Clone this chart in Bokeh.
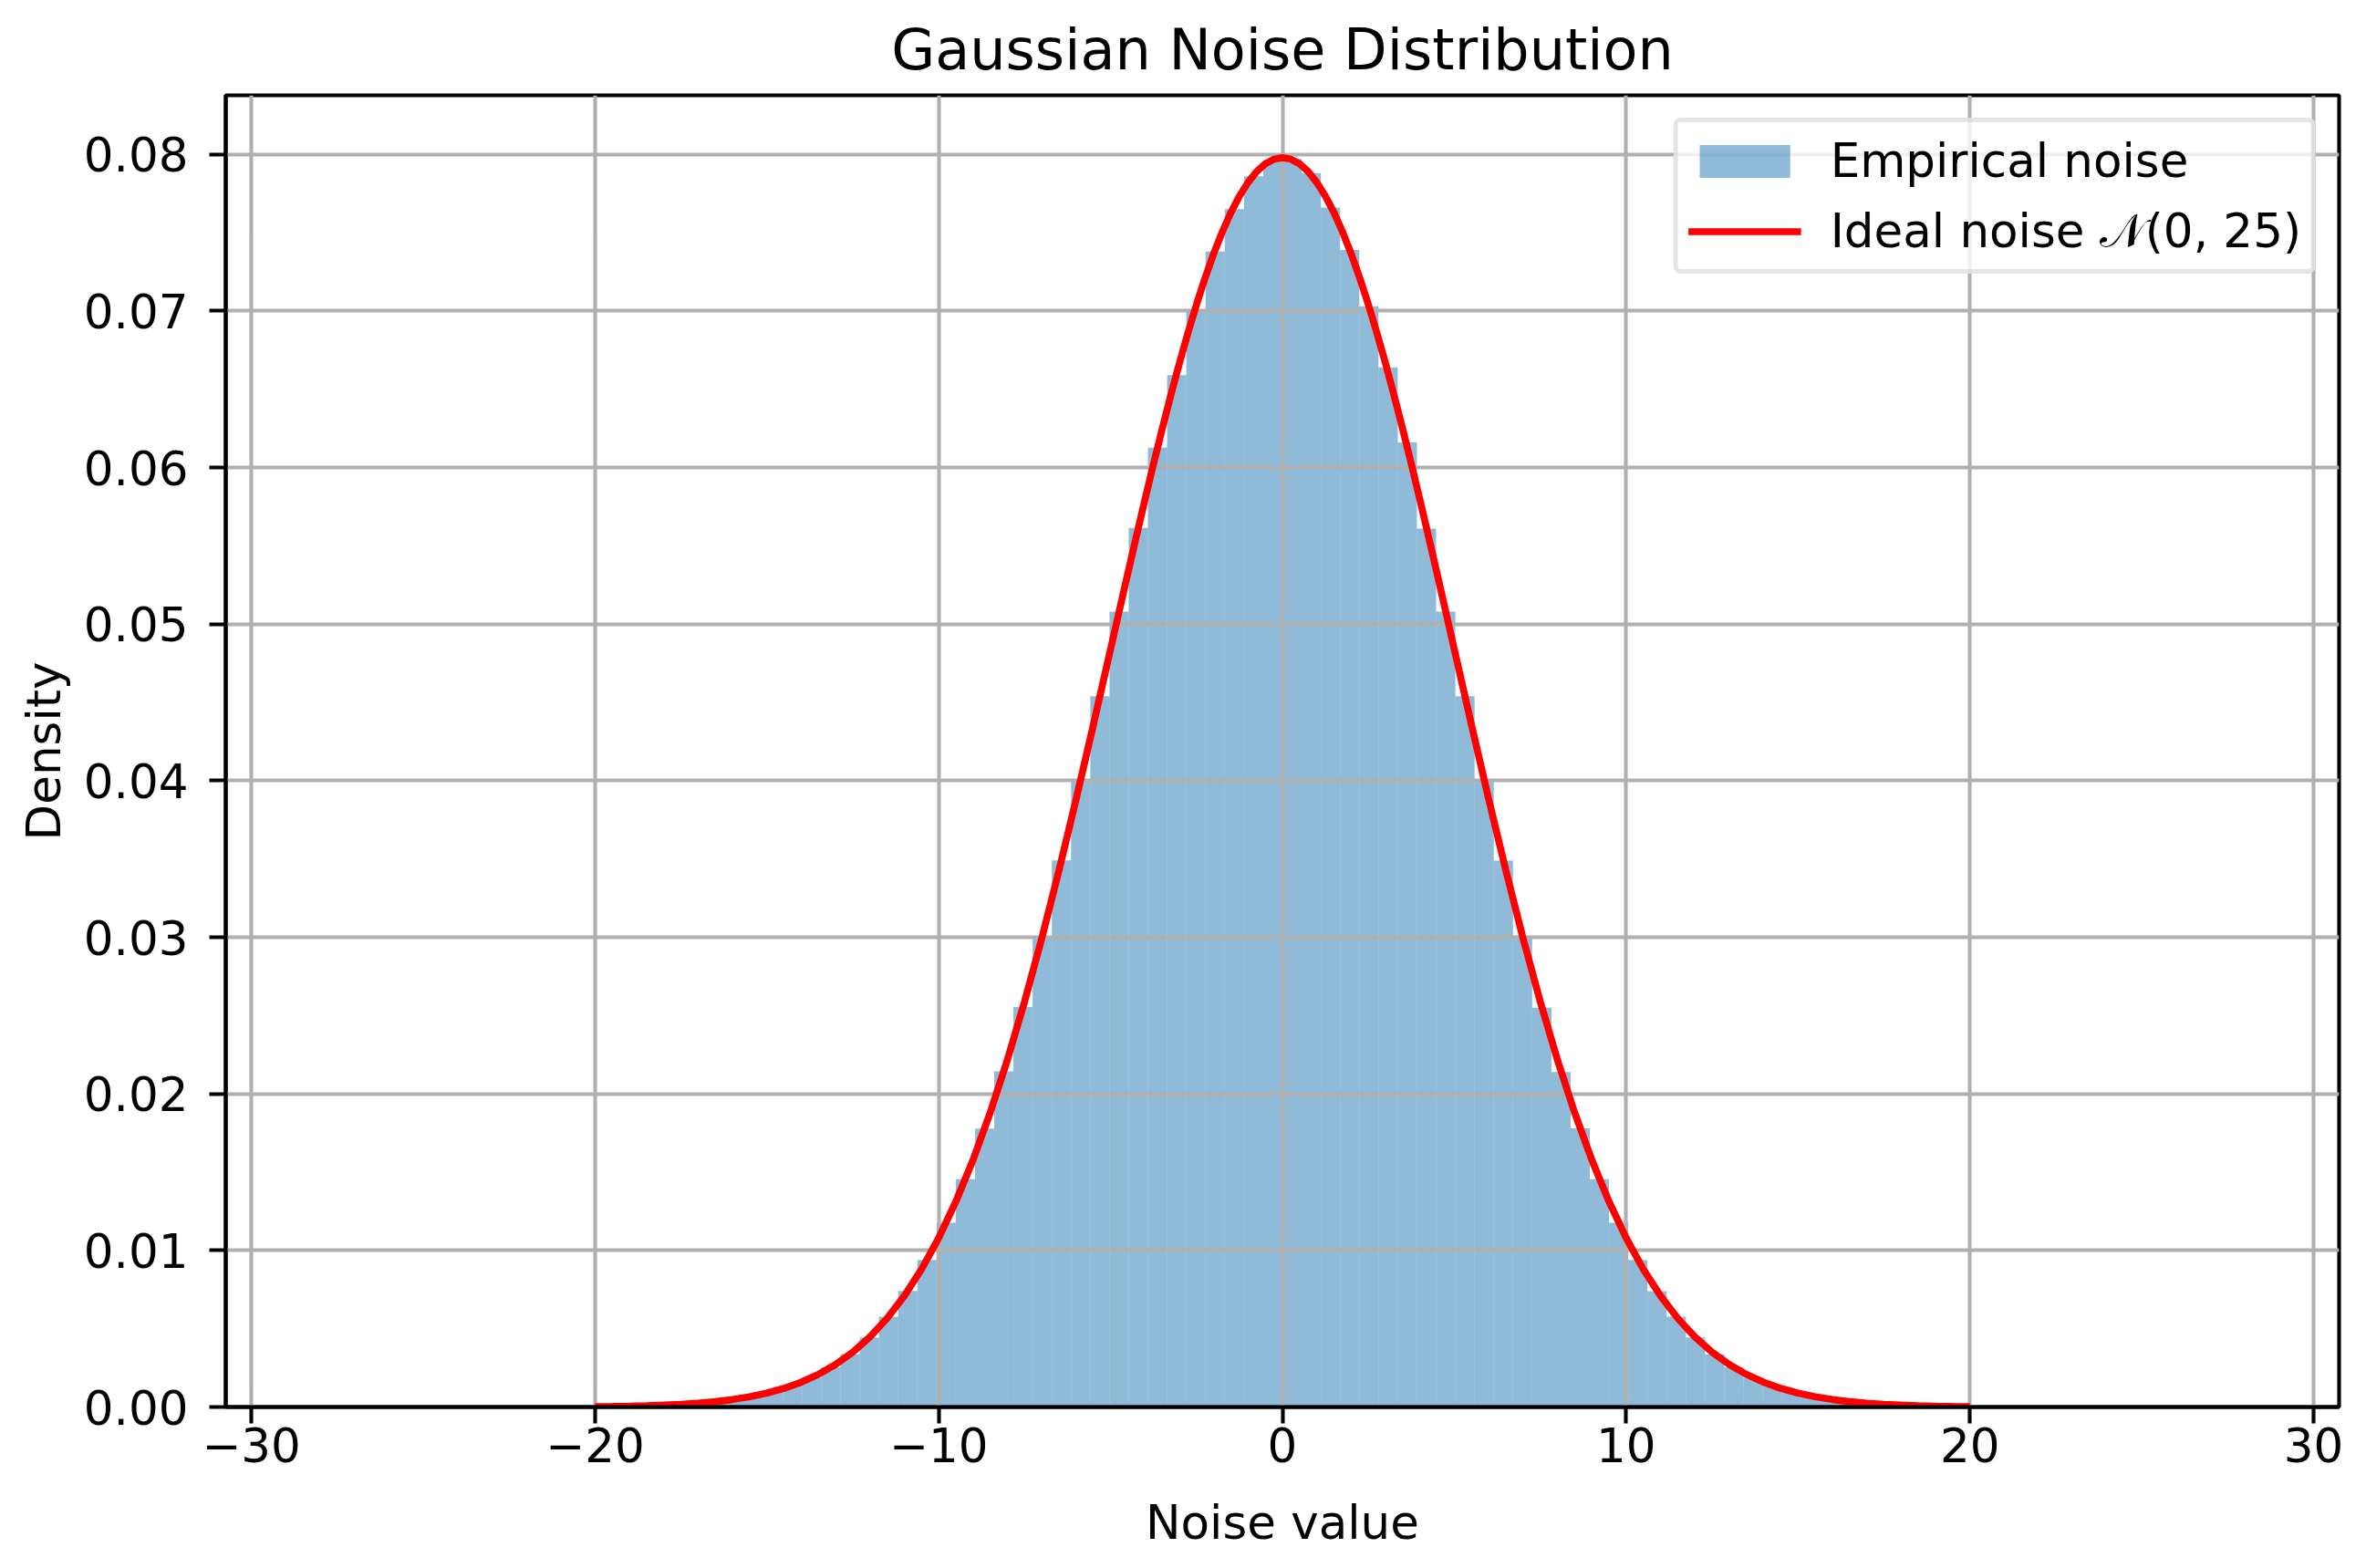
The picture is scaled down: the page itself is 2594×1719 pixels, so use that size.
import numpy as np
from bokeh.plotting import figure
from bokeh.models import Range1d, FixedTicker, PrintfTickFormatter, Legend, LegendItem
from bokeh.embed import file_html
from bokeh.resources import INLINE

# ---------------- data ----------------
bin_start = -27.95
bin_stop = 27.95
n_bins = 100

hist_density = [
    # left tail (bins 0..10)
    0.000001, 0.0, 0.0, 0.000001, 0.000001, 0.000001, 0.000002, 0.000002, 0.000003, 0.000004, 0.000005,
    # bins 11..49
    0.000008, 0.000012, 0.00002, 0.00003, 0.00005, 0.00007, 0.00011, 0.00016, 0.00024, 0.00035,
    0.0005, 0.00071, 0.00099, 0.00137, 0.00187, 0.00253, 0.00337, 0.00444, 0.00577, 0.00741,
    0.0094, 0.01177, 0.01455, 0.01778, 0.02144, 0.02554, 0.03005, 0.03491, 0.04006, 0.04539,
    0.0508, 0.05614, 0.06127, 0.0659, 0.0701, 0.0738, 0.0765, 0.0786, 0.0796,
    # bins 50..88
    0.0797, 0.0788, 0.0766, 0.0739, 0.0703, 0.0664, 0.0616, 0.0561, 0.0508, 0.0454,
    0.0400, 0.0349, 0.0301, 0.0255, 0.0214, 0.0178, 0.01455, 0.01177, 0.0094, 0.0074,
    0.00577, 0.00444, 0.00337, 0.00253, 0.00187, 0.00137, 0.00099, 0.00071, 0.0005, 0.00035,
    0.00024, 0.00016, 0.00011, 0.00007, 0.00005, 0.00003, 0.00002, 0.000012, 0.000008,
    # right tail (bins 89..99)
    0.000005, 0.000004, 0.000003, 0.000002, 0.000002, 0.000001, 0.000001, 0.000001, 0.0, 0.0, 0.000001,
]

# sample positions of the ideal curve (finer near the peak)
curve_x = (list(np.linspace(-20.0, -5.5, 30)) + list(np.linspace(-5.0, 5.0, 41))
           + list(np.linspace(5.5, 20.0, 30)))
curve_density = [
    # -20 .. -5.5
    0.000027, 0.000040, 0.000058, 0.000085, 0.000122, 0.000175, 0.000246, 0.000345, 0.000477, 0.000653,
    0.000886, 0.001191, 0.001583, 0.002084, 0.002717, 0.003506, 0.004479, 0.005665, 0.007095, 0.008797,
    0.010798, 0.013123, 0.015790, 0.018810, 0.022184, 0.025903, 0.029945, 0.034273, 0.038837, 0.043570,
    # -5 .. 5
    0.048394, 0.050812, 0.053217, 0.055596, 0.057938, 0.060227, 0.062450, 0.064594, 0.066645, 0.068588,
    0.070413, 0.072105, 0.073654, 0.075048, 0.076277, 0.077333, 0.078208, 0.078895, 0.079390, 0.079688,
    0.079788,
    0.079688, 0.079390, 0.078895, 0.078208, 0.077333, 0.076277, 0.075048, 0.073654, 0.072105, 0.070413,
    0.068588, 0.066645, 0.064594, 0.062450, 0.060227, 0.057938, 0.055596, 0.053217, 0.050812, 0.048394,
    # 5.5 .. 20
    0.043570, 0.038837, 0.034273, 0.029945, 0.025903, 0.022184, 0.018810, 0.015790, 0.013123, 0.010798,
    0.008797, 0.007095, 0.005665, 0.004479, 0.003506, 0.002717, 0.002084, 0.001583, 0.001191, 0.000886,
    0.000653, 0.000477, 0.000345, 0.000246, 0.000175, 0.000122, 0.000085, 0.000058, 0.000040, 0.000027,
]

x_ticks = [-30, -20, -10, 0, 10, 20, 30]
x_tick_labels = ["\u221230", "\u221220", "\u221210", "0", "10", "20", "30"]
y_ticks = [0.0, 0.01, 0.02, 0.03, 0.04, 0.05, 0.06, 0.07, 0.08]

title_text = "Gaussian Noise Distribution"
x_label = "Noise value"
y_label = "Density"
hist_label = "Empirical noise"
curve_label = "Ideal noise \U0001D4A9(0, 25)"

# ---------------- derived ----------------
edges = np.linspace(bin_start, bin_stop, n_bins + 1)

FONT = "DejaVu Sans"
TICK_PX = "51.5px"

p = figure(
    width=2578, height=1703,
    x_range=Range1d(-30.743, 30.743),
    y_range=Range1d(0.0, 0.08377),
    output_backend="svg", toolbar_location=None,
    min_border_left=247, min_border_right=14, min_border_top=104, min_border_bottom=161,
    background_fill_color="white", border_fill_color="white",
)

# title
p.title.text = title_text
p.title.align = "center"
p.title.text_font = FONT
p.title.text_font_size = "62px"
p.title.text_font_style = "normal"
p.title.text_color = "black"
p.title.standoff = 28

# grid
for g in (p.xgrid, p.ygrid):
    g.grid_line_color = "#b0b0b0"
    g.grid_line_width = 4.1
    g.grid_line_alpha = 1.0

# outline
p.outline_line_color = "black"
p.outline_line_width = 4.1
p.outline_line_alpha = 1.0

# axes
p.xaxis.ticker = FixedTicker(ticks=x_ticks)
p.xaxis.major_label_overrides = {t: l for t, l in zip(x_ticks, x_tick_labels)}
p.yaxis.ticker = FixedTicker(ticks=y_ticks)
p.yaxis.formatter = PrintfTickFormatter(format="%.2f")
p.xaxis.axis_label = x_label
p.yaxis.axis_label = y_label

for ax in (p.xaxis, p.yaxis):
    ax.axis_line_color = "black"
    ax.axis_line_width = 4.1
    ax.major_tick_line_color = "black"
    ax.major_tick_line_width = 4.1
    ax.major_tick_out = 18
    ax.major_tick_in = 0
    ax.minor_tick_line_color = None
    ax.major_label_text_font = FONT
    ax.major_label_text_font_size = TICK_PX
    ax.major_label_text_color = "black"
    ax.axis_label_text_font = FONT
    ax.axis_label_text_font_size = TICK_PX
    ax.axis_label_text_font_style = "normal"
    ax.axis_label_text_color = "black"

p.xaxis.major_label_standoff = 4
p.xaxis.axis_label_standoff = 33
p.yaxis.major_label_standoff = 23
p.yaxis.axis_label_standoff = 11

# histogram (drawn under the grid)
hist_r = p.quad(left=edges[:-1], right=edges[1:], bottom=0, top=hist_density,
                fill_color="#1f77b4", fill_alpha=0.5, line_color=None)
hist_r.level = "image"

# ideal curve
curve_r = p.line(curve_x, curve_density, line_color="red", line_width=7.7)

legend = Legend(items=[LegendItem(label=hist_label, renderers=[hist_r]),
                       LegendItem(label=curve_label, renderers=[curve_r])],
                location="top_right")
legend.margin = 25
legend.padding = 11
legend.spacing = 15
legend.glyph_width = 124
legend.glyph_height = 45
legend.label_standoff = 32
legend.label_height = 62
legend.label_text_font = FONT
legend.label_text_font_size = TICK_PX
legend.label_text_color = "black"
legend.border_line_color = "#cccccc"
legend.border_line_width = 5
legend.background_fill_color = "white"
legend.background_fill_alpha = 0.8
try:
    legend.border_radius = 8
except Exception:
    pass
p.add_layout(legend)

open("out.html", "w").write(file_html(p, INLINE))
